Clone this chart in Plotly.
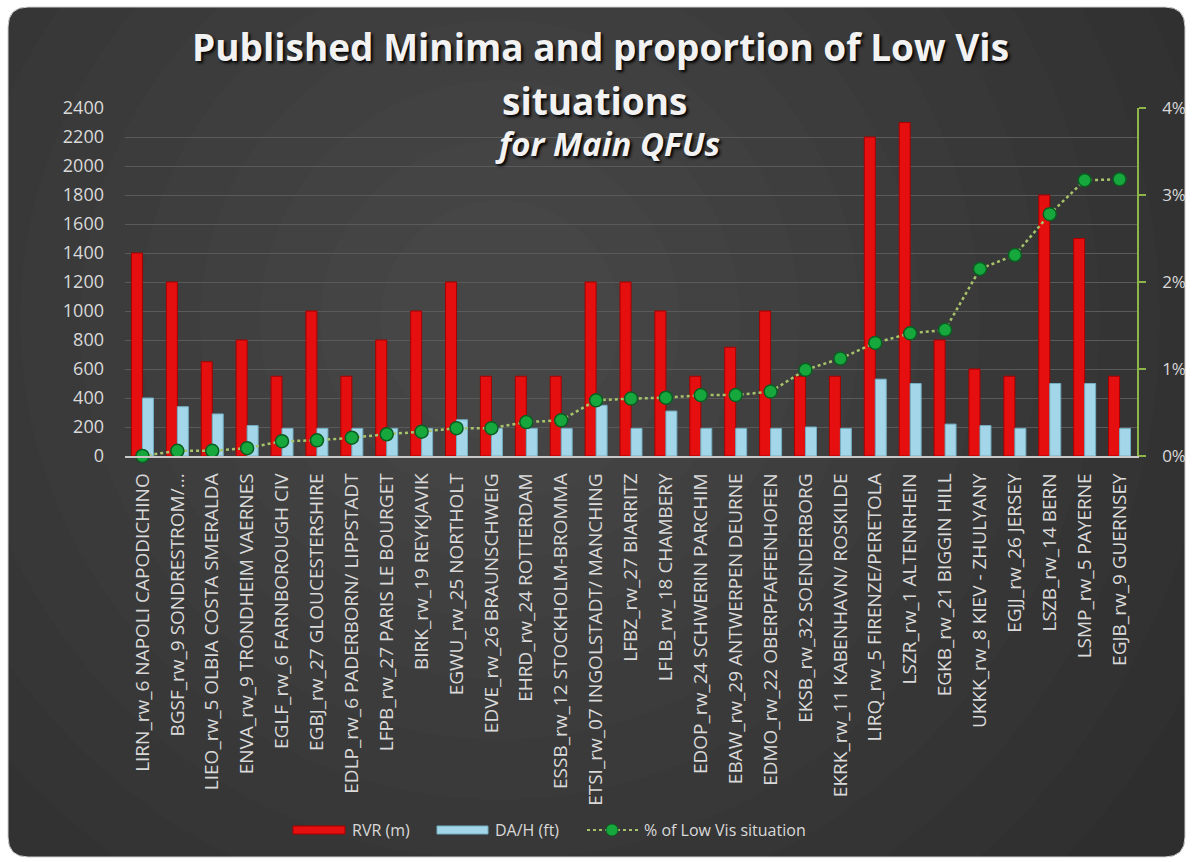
import plotly.graph_objects as go

categories = [
    "LIRN_rw_6 NAPOLI CAPODICHINO", "BGSF_rw_9 SONDRESTROM/...", "LIEO_rw_5 OLBIA COSTA SMERALDA",
    "ENVA_rw_9 TRONDHEIM VAERNES", "EGLF_rw_6 FARNBOROUGH CIV", "EGBJ_rw_27 GLOUCESTERSHIRE",
    "EDLP_rw_6 PADERBORN/ LIPPSTADT", "LFPB_rw_27 PARIS LE BOURGET", "BIRK_rw_19 REYKJAVIK",
    "EGWU_rw_25 NORTHOLT", "EDVE_rw_26 BRAUNSCHWEIG", "EHRD_rw_24 ROTTERDAM",
    "ESSB_rw_12 STOCKHOLM-BROMMA", "ETSI_rw_07 INGOLSTADT/ MANCHING", "LFBZ_rw_27 BIARRITZ",
    "LFLB_rw_18 CHAMBERY", "EDOP_rw_24 SCHWERIN PARCHIM", "EBAW_rw_29 ANTWERPEN DEURNE",
    "EDMO_rw_22 OBERPFAFFENHOFEN", "EKSB_rw_32 SOENDERBORG", "EKRK_rw_11 KABENHAVN/ ROSKILDE",
    "LIRQ_rw_5 FIRENZE/PERETOLA", "LSZR_rw_1 ALTENRHEIN", "EGKB_rw_21 BIGGIN HILL",
    "UKKK_rw_8 KIEV - ZHULYANY", "EGJJ_rw_26 JERSEY", "LSZB_rw_14 BERN",
    "LSMP_rw_5 PAYERNE", "EGJB_rw_9 GUERNSEY",
]
rvr_m = [1400, 1200, 650, 800, 550, 1000, 550, 800, 1000, 1200, 550, 550, 550, 1200, 1200,
         1000, 550, 750, 1000, 550, 550, 2200, 2300, 800, 600, 550, 1800, 1500, 550]
dah_ft = [400, 340, 290, 210, 190, 190, 190, 190, 190, 250, 190, 190, 190, 350, 190,
          310, 190, 190, 190, 200, 190, 530, 500, 220, 210, 190, 500, 500, 190]
low_vis_pct = [0.0000, 0.0006, 0.0006, 0.0009, 0.0017, 0.0018, 0.0021, 0.0025, 0.0028, 0.0032,
               0.0032, 0.0039, 0.0041, 0.0064, 0.0066, 0.0067, 0.0070, 0.0070, 0.0074, 0.0099,
               0.0112, 0.0130, 0.0141, 0.0145, 0.0215, 0.0231, 0.0278, 0.0317, 0.0318]
series_names = ["RVR (m)", "DA/H (ft)", "% of Low Vis situation"]

RED, RED_EDGE = "#e50f0f", "#a80000"
BLUE, BLUE_EDGE = "#a3d6e8", "#73aec2"
LINE_C, MARK_C, MARK_EDGE = "#a8c46a", "#17a83d", "#0a5e22"
TXT = "#d9d9d9"

W, H = 1192, 862
L, R, T, B = 125, 55, 108, 406
pw, ph = W - L - R, H - T - B


def px(x):
    return (x - L) / pw


def py(y):
    return (H - B - y) / ph


def rounded_rect(x0, y0, x1, y1, r):
    return (f"M {px(x0 + r)},{py(y0)} L {px(x1 - r)},{py(y0)} "
            f"Q {px(x1)},{py(y0)} {px(x1)},{py(y0 + r)} "
            f"L {px(x1)},{py(y1 - r)} Q {px(x1)},{py(y1)} {px(x1 - r)},{py(y1)} "
            f"L {px(x0 + r)},{py(y1)} Q {px(x0)},{py(y1)} {px(x0)},{py(y1 - r)} "
            f"L {px(x0)},{py(y0 + r)} Q {px(x0)},{py(y0)} {px(x0 + r)},{py(y0)} Z")


fig = go.Figure()
fig.add_trace(go.Bar(
    x=categories, y=rvr_m, name=series_names[0],
    marker=dict(color=RED, line=dict(color=RED_EDGE, width=1)),
))
fig.add_trace(go.Bar(
    x=categories, y=dah_ft, name=series_names[1],
    marker=dict(color=BLUE, line=dict(color=BLUE_EDGE, width=1)),
))
fig.add_trace(go.Scatter(
    x=categories, y=low_vis_pct, name=series_names[2], yaxis="y2", mode="lines+markers",
    line=dict(color=LINE_C, width=2.5, dash="dot"),
    marker=dict(color=MARK_C, size=13, line=dict(color=MARK_EDGE, width=1.5)),
    cliponaxis=False,
))

shapes = [dict(type="path", xref="paper", yref="paper", layer="below",
               path=rounded_rect(8, 7, 1185, 857, 20),
               fillcolor="#2e2e2e", line=dict(color="#cfcfcf", width=1))]
# soft radial glow (white over white outside the panel is invisible)
cx, cy = 500, 320
for rad in range(120, 800, 60):
    shapes.append(dict(type="circle", xref="paper", yref="paper", layer="below",
                       x0=px(cx - rad), x1=px(cx + rad), y0=py(cy + rad), y1=py(cy - rad),
                       fillcolor="rgba(255,255,255,0.012)", line=dict(width=0)))

# custom legend
ly = 830
shapes += [
    dict(type="rect", xref="paper", yref="paper", x0=px(293), x1=px(345), y0=py(ly + 4), y1=py(ly - 4),
         fillcolor=RED, line=dict(color=RED_EDGE, width=1)),
    dict(type="rect", xref="paper", yref="paper", x0=px(437), x1=px(488), y0=py(ly + 4), y1=py(ly - 4),
         fillcolor=BLUE, line=dict(color=BLUE_EDGE, width=1)),
    dict(type="line", xref="paper", yref="paper", x0=px(587), x1=px(638), y0=py(ly), y1=py(ly),
         line=dict(color=LINE_C, width=2, dash="dot")),
    dict(type="circle", xref="paper", yref="paper", x0=px(606), x1=px(618), y0=py(ly + 6), y1=py(ly - 6),
         fillcolor=MARK_C, line=dict(color=MARK_EDGE, width=1)),
]

title_font = "Open Sans"
tick_font = "Open Sans"
shadow = "2px 2px 3px #000"
annotations = [
    dict(text="<b>Published Minima and proportion of Low Vis</b>", xref="paper", yref="paper",
         x=px(600), y=py(47), xanchor="center", yanchor="middle", showarrow=False,
         font=dict(size=37, color="#f2f2f2", family=title_font, shadow=shadow)),
    dict(text="<b>situations</b>", xref="paper", yref="paper",
         x=px(594), y=py(100), xanchor="center", yanchor="middle", showarrow=False,
         font=dict(size=37, color="#f2f2f2", family=title_font, shadow=shadow)),
    dict(text="<b><i>for Main QFUs</i></b>", xref="paper", yref="paper",
         x=px(607), y=py(143), xanchor="center", yanchor="middle", showarrow=False,
         font=dict(size=33, color="#f2f2f2", family=title_font, shadow=shadow)),
]
for name, x0 in zip(series_names, [350, 493, 642]):
    annotations.append(dict(text=name, xref="paper", yref="paper", x=px(x0), y=py(ly),
                            xanchor="left", yanchor="middle", showarrow=False,
                            font=dict(size=16, color=TXT, family=tick_font)))

fig.update_layout(
    width=W, height=H,
    margin=dict(l=L, r=R, t=T, b=B, autoexpand=False),
    paper_bgcolor="white", plot_bgcolor="rgba(0,0,0,0)",
    barmode="group", bargap=0.37, bargroupgap=0,
    font=dict(family=tick_font, color=TXT, size=15),
    showlegend=False,
    xaxis=dict(range=[-0.5, len(categories) - 0.5], tickangle=-90,
               tickfont=dict(size=19, color=TXT, family=tick_font), ticklabelstandoff=8,
               showline=True, linecolor="#c8c8c8", linewidth=1.5, ticks="",
               showgrid=False, zeroline=False),
    yaxis=dict(range=[0, 2400], dtick=200, showgrid=True, gridcolor="#5a5a5a", gridwidth=1,
               zeroline=False, showline=False, ticks="", ticklabelstandoff=20,
               tickfont=dict(size=18, color=TXT, family=tick_font)),
    yaxis2=dict(range=[0, 0.04], dtick=0.01, tickformat=".0%", overlaying="y", side="right",
                showgrid=False, zeroline=False, showline=True, linecolor="#8db548", linewidth=1.5,
                ticks="outside", tickcolor="#8db548", ticklen=7, tickwidth=1.5,
                ticklabelstandoff=13, tickfont=dict(size=17, color=TXT, family=tick_font)),
    shapes=shapes,
    annotations=annotations,
)

fig.write_html("out.html", config={"displayModeBar": False},
               post_script="document.body.style.margin='0';document.body.style.overflow='hidden';")
